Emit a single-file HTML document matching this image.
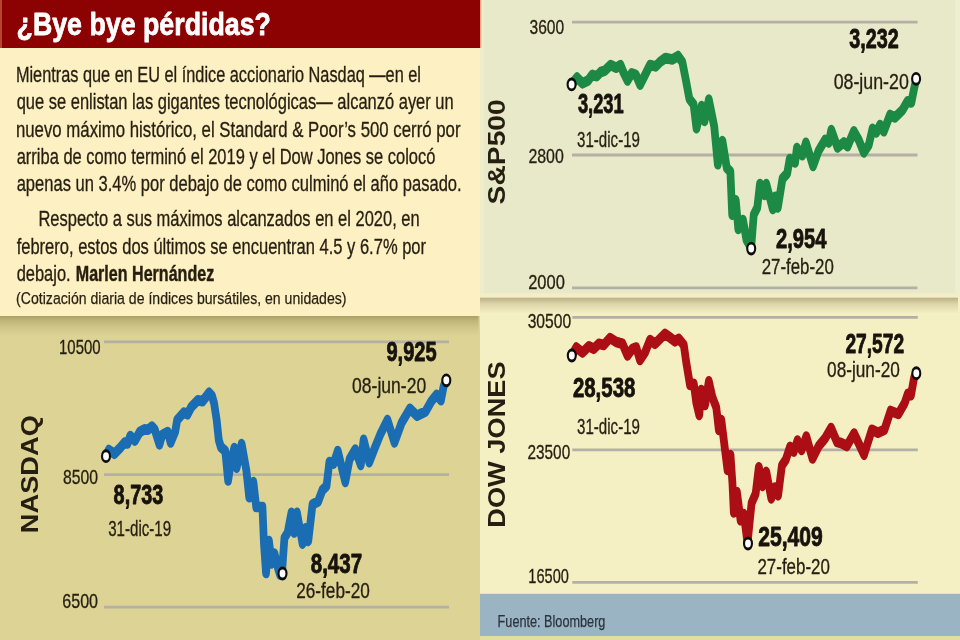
<!DOCTYPE html>
<html lang="es">
<head>
<meta charset="utf-8">
<title>¿Bye bye pérdidas?</title>
<style>
html,body{margin:0;padding:0;background:#fdf0c2;}
body{width:960px;height:640px;overflow:hidden;}
svg{display:block;will-change:transform;opacity:.9999;}
svg text{font-family:"Liberation Sans", "DejaVu Sans", sans-serif;}
</style>
</head>
<body>
<svg width="960" height="640" viewBox="0 0 960 640">
<defs><linearGradient id="sh1" x1="0" y1="0" x2="0" y2="1"><stop offset="0" stop-color="#aa9f64"/><stop offset="0.22" stop-color="#beb378"/><stop offset="0.55" stop-color="#cfc589"/><stop offset="1" stop-color="#dcd395"/></linearGradient><linearGradient id="sh2" x1="0" y1="0" x2="0" y2="1"><stop offset="0" stop-color="#b9b085"/><stop offset="0.4" stop-color="#ddd6aa"/><stop offset="1" stop-color="#f5efc4"/></linearGradient></defs>
<rect x="0" y="0" width="480" height="316" fill="#fdf0c2"/>
<rect x="0" y="0" width="480" height="48" fill="#8c0203"/>
<rect x="0" y="0" width="2" height="48" fill="#b5462f"/>
<rect x="0" y="316" width="480" height="324" fill="#dcd395"/>
<rect x="0" y="316" width="478.5" height="20" fill="url(#sh1)"/>
<rect x="480" y="0" width="480" height="298" fill="#f3eec6"/>
<rect x="480" y="0" width="3.5" height="293.3" fill="#efedc9"/>
<rect x="483.5" y="0" width="471.5" height="293.3" fill="#e7e9c9"/>
<rect x="955" y="0" width="5" height="293.3" fill="#eceecf"/>
<rect x="480" y="0" width="1.3" height="48" fill="#e9a48a"/>
<rect x="480" y="297.7" width="480" height="296.3" fill="#f5efc4"/>
<rect x="480" y="297.7" width="478" height="16" fill="url(#sh2)"/>
<rect x="480" y="593.8" width="480" height="42.6" fill="#9bb4c3"/>
<rect x="480" y="636.4" width="480" height="3.6" fill="#e6dd9c"/>
<text x="16.56" y="35.00" font-size="32" font-weight="700" fill="#fff" stroke="#fff" stroke-width="0.8" stroke-linejoin="round" textLength="254.33" lengthAdjust="spacingAndGlyphs">¿Bye bye pérdidas?</text>
<text x="15.91" y="82.00" font-size="21.8" font-weight="400" fill="#261f11" stroke="#261f11" stroke-width="0.32" stroke-linejoin="round" textLength="405.06" lengthAdjust="spacingAndGlyphs">Mientras que en EU el índice accionario Nasdaq —en el</text>
<text x="16.66" y="109.30" font-size="21.8" font-weight="400" fill="#261f11" stroke="#261f11" stroke-width="0.32" stroke-linejoin="round" textLength="437.03" lengthAdjust="spacingAndGlyphs">que se enlistan las gigantes tecnológicas— alcanzó ayer un</text>
<text x="15.89" y="136.60" font-size="21.8" font-weight="400" fill="#261f11" stroke="#261f11" stroke-width="0.32" stroke-linejoin="round" textLength="444.65" lengthAdjust="spacingAndGlyphs">nuevo máximo histórico, el Standard &amp; Poor’s 500 cerró por</text>
<text x="16.66" y="163.90" font-size="21.8" font-weight="400" fill="#261f11" stroke="#261f11" stroke-width="0.32" stroke-linejoin="round" textLength="418.77" lengthAdjust="spacingAndGlyphs">arriba de como terminó el 2019 y el Dow Jones se colocó</text>
<text x="16.66" y="191.20" font-size="21.8" font-weight="400" fill="#261f11" stroke="#261f11" stroke-width="0.32" stroke-linejoin="round" textLength="444.98" lengthAdjust="spacingAndGlyphs">apenas un 3.4% por debajo de como culminó el año pasado.</text>
<text x="38.40" y="226.00" font-size="21.8" font-weight="400" fill="#261f11" stroke="#261f11" stroke-width="0.32" stroke-linejoin="round" textLength="381.29" lengthAdjust="spacingAndGlyphs">Respecto a sus máximos alcanzados en el 2020, en</text>
<text x="16.66" y="253.50" font-size="21.8" font-weight="400" fill="#261f11" stroke="#261f11" stroke-width="0.32" stroke-linejoin="round" textLength="409.38" lengthAdjust="spacingAndGlyphs">febrero, estos dos últimos se encuentran 4.5 y 6.7% por</text>
<text x="16.66" y="280.50" font-size="21.8" font-weight="400" fill="#261f11" stroke="#261f11" stroke-width="0.32" stroke-linejoin="round" textLength="53.98" lengthAdjust="spacingAndGlyphs">debajo.</text>
<text x="75.79" y="280.50" font-size="21.8" font-weight="700" fill="#261f11" stroke="#261f11" stroke-width="0.45" stroke-linejoin="round" textLength="138.41" lengthAdjust="spacingAndGlyphs">Marlen Hernández</text>
<text x="16.11" y="304.00" font-size="17.2" font-weight="400" fill="#261f11" stroke="#261f11" stroke-width="0.25" stroke-linejoin="round" textLength="330.36" lengthAdjust="spacingAndGlyphs">(Cotización diaria de índices bursátiles, en unidades)</text>
<line x1="104" y1="341.9" x2="449" y2="341.9" stroke="#b4b0a6" stroke-width="2.8"/>
<line x1="104" y1="474.7" x2="449" y2="474.7" stroke="#b4b0a6" stroke-width="2.8"/>
<line x1="104" y1="607.2" x2="449" y2="607.2" stroke="#b4b0a6" stroke-width="2.8"/>
<text x="59.03" y="354.00" font-size="20.6" font-weight="400" fill="#261f11" stroke="#261f11" stroke-width="0.32" stroke-linejoin="round" textLength="41.53" lengthAdjust="spacingAndGlyphs">10500</text>
<text x="63.06" y="483.50" font-size="20.6" font-weight="400" fill="#261f11" stroke="#261f11" stroke-width="0.32" stroke-linejoin="round" textLength="35.03" lengthAdjust="spacingAndGlyphs">8500</text>
<text x="62.28" y="608.30" font-size="20.6" font-weight="400" fill="#261f11" stroke="#261f11" stroke-width="0.32" stroke-linejoin="round" textLength="35.82" lengthAdjust="spacingAndGlyphs">6500</text>
<g transform="scale(0.73,1)"><polyline points="145.2,456.0 149.0,450.0 156.7,453.8 164.4,448.0 170.8,442.5 174.7,443.5 178.5,436.0 184.9,440.6 191.4,432.0 197.8,429.4 202.7,429.8 208.1,426.6 211.9,429.4 218.4,444.4 222.2,435.0 229.9,432.0 233.7,442.5 240.1,431.3 242.7,420.0 251.8,412.5 256.8,414.4 262.1,406.9 271.0,400.3 277.4,401.3 286.3,392.8 290.4,396.0 293.2,403.0 296.8,420.0 299.7,440.0 302.5,447.0 308.6,451.0 312.5,480.5 316.4,462.0 321.0,448.0 324.1,467.8 331.0,444.0 337.5,470.6 341.4,497.3 347.1,482.0 351.0,507.0 359.5,507.0 361.6,543.7 364.4,573.0 368.4,541.0 372.2,563.4 376.0,553.6 380.8,568.0 383.6,574.7 386.3,573.3 389.6,538.0 394.1,532.5 399.2,512.8 403.0,532.5 406.8,512.8 414.5,543.7 418.5,528.3 422.3,541.0 428.1,504.4 435.8,501.5 441.5,490.3 447.3,486.0 451.2,462.0 457.0,463.6 462.7,451.0 473.0,481.9 478.8,459.4 486.6,449.5 494.2,465.0 498.1,439.7 505.8,462.2 513.4,448.0 521.2,434.0 530.8,420.0 540.4,442.5 550.1,422.8 561.6,408.7 571.2,415.8 582.9,411.5 590.5,401.7 598.2,394.7 604.0,400.3 607.8,386.2 611.6,380.0" fill="none" stroke="#1a6db3" stroke-width="10.6" stroke-linejoin="round" stroke-linecap="round"/></g>
<circle transform="translate(106,456.2) scale(0.73,1)" r="5.45" fill="#fff" stroke="#0d0d0d" stroke-width="2.9"/>
<circle transform="translate(282.5,573.5) scale(0.73,1)" r="5.45" fill="#fff" stroke="#0d0d0d" stroke-width="2.9"/>
<circle transform="translate(446.3,380.3) scale(0.73,1)" r="5.45" fill="#fff" stroke="#0d0d0d" stroke-width="2.9"/>
<text x="113.62" y="504.40" font-size="27.4" font-weight="700" fill="#17120b" stroke="#17120b" stroke-width="0.85" stroke-linejoin="round" textLength="49.62" lengthAdjust="spacingAndGlyphs">8,733</text>
<text x="108.16" y="535.80" font-size="21.6" font-weight="400" fill="#261f11" stroke="#261f11" stroke-width="0.32" stroke-linejoin="round" textLength="62.99" lengthAdjust="spacingAndGlyphs">31-dic-19</text>
<text x="310.73" y="572.80" font-size="27.4" font-weight="700" fill="#17120b" stroke="#17120b" stroke-width="0.85" stroke-linejoin="round" textLength="51.32" lengthAdjust="spacingAndGlyphs">8,437</text>
<text x="296.26" y="597.50" font-size="21.6" font-weight="400" fill="#261f11" stroke="#261f11" stroke-width="0.32" stroke-linejoin="round" textLength="73.58" lengthAdjust="spacingAndGlyphs">26-feb-20</text>
<text x="386.43" y="360.60" font-size="27.4" font-weight="700" fill="#17120b" stroke="#17120b" stroke-width="0.85" stroke-linejoin="round" textLength="50.22" lengthAdjust="spacingAndGlyphs">9,925</text>
<text x="352.06" y="393.00" font-size="21.6" font-weight="400" fill="#261f11" stroke="#261f11" stroke-width="0.32" stroke-linejoin="round" textLength="74.09" lengthAdjust="spacingAndGlyphs">08-jun-20</text>
<text transform="translate(38.40,533.17) rotate(-90)" font-size="23.2" font-weight="700" fill="#261f11" textLength="118.02" lengthAdjust="spacingAndGlyphs">NASDAQ</text>
<line x1="572" y1="22.1" x2="917.5" y2="22.1" stroke="#b4b0a6" stroke-width="2.8"/>
<line x1="572" y1="155.0" x2="917.5" y2="155.0" stroke="#b4b0a6" stroke-width="2.8"/>
<line x1="572" y1="287.9" x2="917.5" y2="287.9" stroke="#b4b0a6" stroke-width="2.8"/>
<text x="529.56" y="34.00" font-size="20.6" font-weight="400" fill="#261f11" stroke="#261f11" stroke-width="0.32" stroke-linejoin="round" textLength="34.62" lengthAdjust="spacingAndGlyphs">3600</text>
<text x="528.39" y="163.20" font-size="20.6" font-weight="400" fill="#261f11" stroke="#261f11" stroke-width="0.32" stroke-linejoin="round" textLength="35.40" lengthAdjust="spacingAndGlyphs">2800</text>
<text x="528.16" y="289.00" font-size="20.6" font-weight="400" fill="#261f11" stroke="#261f11" stroke-width="0.32" stroke-linejoin="round" textLength="36.64" lengthAdjust="spacingAndGlyphs">2000</text>
<g transform="scale(0.73,1)"><polyline points="783.3,84.1 790.3,77.6 797.9,83.3 805.6,80.5 811.4,74.8 817.3,76.2 823.0,72.0 828.8,70.6 836.4,65.0 844.1,67.8 850.0,65.0 853.8,72.0 859.6,80.5 865.3,73.4 871.1,74.8 876.8,84.7 882.7,76.2 890.4,65.0 898.1,66.4 903.8,62.2 911.6,58.0 921.2,59.4 928.9,56.0 934.7,62.2 938.5,76.2 944.4,99.0 950.1,104.4 954.1,128.3 961.1,106.0 965.1,121.0 971.0,99.6 978.4,126.5 983.3,164.3 989.6,141.0 995.6,168.0 1000.5,171.5 1003.0,214.7 1007.9,200.3 1011.4,229.0 1017.8,220.0 1022.6,239.9 1029.0,247.8 1032.5,214.7 1037.4,207.5 1041.0,184.0 1047.3,195.0 1049.7,184.0 1058.6,209.0 1062.1,196.7 1065.5,207.5 1071.9,178.7 1078.4,173.3 1081.8,159.0 1089.2,162.5 1091.6,148.0 1099.0,155.3 1104.0,142.7 1113.8,166.0 1121.2,151.0 1130.1,140.0 1135.3,142.5 1138.8,130.0 1147.3,147.5 1155.9,142.5 1161.0,146.3 1169.6,131.3 1176.4,140.0 1183.3,152.5 1190.1,145.0 1195.2,128.8 1200.4,132.5 1205.5,125.0 1210.7,131.3 1219.2,115.0 1226.0,117.5 1236.3,110.0 1243.2,101.3 1248.4,102.5 1251.8,90.0 1255.2,78.8" fill="none" stroke="#1c8a45" stroke-width="10.6" stroke-linejoin="round" stroke-linecap="round"/></g>
<circle transform="translate(571.6,84.4) scale(0.73,1)" r="5.45" fill="#fff" stroke="#0d0d0d" stroke-width="2.9"/>
<circle transform="translate(751.2,248.6) scale(0.73,1)" r="5.45" fill="#fff" stroke="#0d0d0d" stroke-width="2.9"/>
<circle transform="translate(916.1,78.8) scale(0.73,1)" r="5.45" fill="#fff" stroke="#0d0d0d" stroke-width="2.9"/>
<text x="577.92" y="112.50" font-size="27.4" font-weight="700" fill="#17120b" stroke="#17120b" stroke-width="0.85" stroke-linejoin="round" textLength="45.81" lengthAdjust="spacingAndGlyphs">3,231</text>
<text x="577.06" y="146.90" font-size="21.6" font-weight="400" fill="#261f11" stroke="#261f11" stroke-width="0.32" stroke-linejoin="round" textLength="62.89" lengthAdjust="spacingAndGlyphs">31-dic-19</text>
<text x="776.02" y="248.20" font-size="27.4" font-weight="700" fill="#17120b" stroke="#17120b" stroke-width="0.85" stroke-linejoin="round" textLength="50.49" lengthAdjust="spacingAndGlyphs">2,954</text>
<text x="761.68" y="273.80" font-size="21.6" font-weight="400" fill="#261f11" stroke="#261f11" stroke-width="0.32" stroke-linejoin="round" textLength="72.17" lengthAdjust="spacingAndGlyphs">27-feb-20</text>
<text x="849.22" y="47.50" font-size="27.4" font-weight="700" fill="#17120b" stroke="#17120b" stroke-width="0.85" stroke-linejoin="round" textLength="49.52" lengthAdjust="spacingAndGlyphs">3,232</text>
<text x="833.66" y="89.30" font-size="21.6" font-weight="400" fill="#261f11" stroke="#261f11" stroke-width="0.32" stroke-linejoin="round" textLength="75.19" lengthAdjust="spacingAndGlyphs">08-jun-20</text>
<text transform="translate(504.80,204.40) rotate(-90)" font-size="23.2" font-weight="700" fill="#261f11" textLength="105.19" lengthAdjust="spacingAndGlyphs">S&amp;P500</text>
<line x1="572.3" y1="317.3" x2="917.8" y2="317.3" stroke="#b4b0a6" stroke-width="2.8"/>
<line x1="572.3" y1="449.8" x2="917.8" y2="449.8" stroke="#b4b0a6" stroke-width="2.8"/>
<line x1="572.3" y1="582.3" x2="917.8" y2="582.3" stroke="#b4b0a6" stroke-width="2.8"/>
<text x="527.66" y="327.80" font-size="20.6" font-weight="400" fill="#261f11" stroke="#261f11" stroke-width="0.32" stroke-linejoin="round" textLength="43.52" lengthAdjust="spacingAndGlyphs">30500</text>
<text x="527.52" y="458.80" font-size="20.6" font-weight="400" fill="#261f11" stroke="#261f11" stroke-width="0.32" stroke-linejoin="round" textLength="42.66" lengthAdjust="spacingAndGlyphs">23500</text>
<text x="528.35" y="583.30" font-size="20.6" font-weight="400" fill="#261f11" stroke="#261f11" stroke-width="0.32" stroke-linejoin="round" textLength="40.51" lengthAdjust="spacingAndGlyphs">16500</text>
<g transform="scale(0.73,1)"><polyline points="783.3,355.5 789.5,347.5 797.9,352.5 806.6,346.3 813.4,348.8 820.3,343.8 827.1,345.0 835.6,338.0 844.2,342.0 852.7,343.8 859.6,355.5 866.4,348.8 871.6,347.5 876.7,360.0 883.6,352.5 890.4,340.0 897.3,343.8 902.5,340.0 911.0,333.8 917.8,337.5 924.7,341.3 929.9,338.8 936.7,345.0 940.1,362.5 945.2,385.0 950.4,383.8 953.8,402.5 957.9,415.0 960.7,390.0 965.8,405.0 971.0,381.3 976.0,397.5 981.2,407.5 984.7,430.0 988.1,420.0 993.2,450.0 996.6,470.0 1000.7,455.0 1003.4,484.0 1005.2,512.5 1009.5,492.2 1014.5,520.3 1018.9,514.0 1024.0,543.0 1029.6,503.0 1035.1,493.8 1039.5,467.2 1044.5,486.0 1049.7,471.9 1056.6,498.4 1061.6,487.5 1065.9,495.3 1071.1,465.6 1076.6,459.4 1082.2,446.9 1087.4,451.6 1092.5,440.6 1098.1,450.0 1104.5,436.5 1113.0,458.5 1121.6,446.0 1130.1,438.5 1138.4,428.0 1146.6,442.0 1152.1,443.0 1160.1,446.0 1169.9,433.5 1183.6,454.7 1194.4,429.7 1202.7,432.8 1211.5,429.7 1220.0,411.0 1230.7,414.0 1239.3,403.0 1243.6,393.8 1247.9,395.3 1252.1,378.0 1255.6,373.4" fill="none" stroke="#ab0f15" stroke-width="10.6" stroke-linejoin="round" stroke-linecap="round"/></g>
<circle transform="translate(571.8,355.5) scale(0.73,1)" r="5.45" fill="#fff" stroke="#0d0d0d" stroke-width="2.9"/>
<circle transform="translate(748.0,543.5) scale(0.73,1)" r="5.45" fill="#fff" stroke="#0d0d0d" stroke-width="2.9"/>
<circle transform="translate(916.3,373.2) scale(0.73,1)" r="5.45" fill="#fff" stroke="#0d0d0d" stroke-width="2.9"/>
<text x="572.92" y="396.90" font-size="27.4" font-weight="700" fill="#17120b" stroke="#17120b" stroke-width="0.85" stroke-linejoin="round" textLength="62.42" lengthAdjust="spacingAndGlyphs">28,538</text>
<text x="577.06" y="433.80" font-size="21.6" font-weight="400" fill="#261f11" stroke="#261f11" stroke-width="0.32" stroke-linejoin="round" textLength="62.89" lengthAdjust="spacingAndGlyphs">31-dic-19</text>
<text x="758.22" y="545.60" font-size="27.4" font-weight="700" fill="#17120b" stroke="#17120b" stroke-width="0.85" stroke-linejoin="round" textLength="64.63" lengthAdjust="spacingAndGlyphs">25,409</text>
<text x="757.48" y="574.40" font-size="21.6" font-weight="400" fill="#261f11" stroke="#261f11" stroke-width="0.32" stroke-linejoin="round" textLength="72.37" lengthAdjust="spacingAndGlyphs">27-feb-20</text>
<text x="845.42" y="353.10" font-size="27.4" font-weight="700" fill="#17120b" stroke="#17120b" stroke-width="0.85" stroke-linejoin="round" textLength="58.71" lengthAdjust="spacingAndGlyphs">27,572</text>
<text x="827.06" y="376.90" font-size="21.6" font-weight="400" fill="#261f11" stroke="#261f11" stroke-width="0.32" stroke-linejoin="round" textLength="72.79" lengthAdjust="spacingAndGlyphs">08-jun-20</text>
<text transform="translate(505.40,527.67) rotate(-90)" font-size="23.2" font-weight="700" fill="#261f11" textLength="166.22" lengthAdjust="spacingAndGlyphs">DOW JONES</text>
<text x="497.59" y="627.10" font-size="17.3" font-weight="400" fill="#2a333c" stroke="#2a333c" stroke-width="0.25" stroke-linejoin="round" textLength="107.83" lengthAdjust="spacingAndGlyphs">Fuente: Bloomberg</text>
</svg>
</body>
</html>
